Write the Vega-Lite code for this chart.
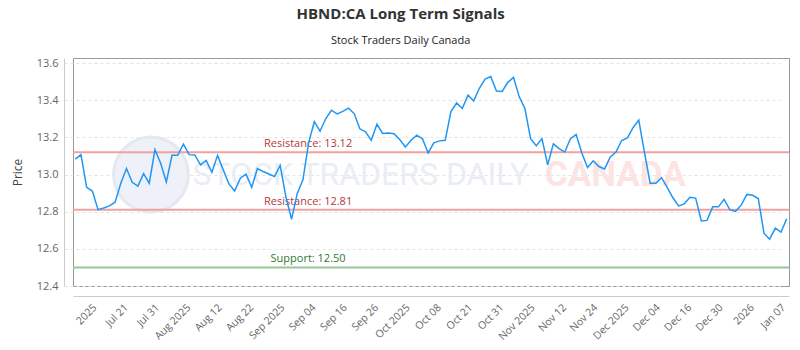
{
  "$schema": "https://vega.github.io/schema/vega-lite/v6.json",
  "width": 800,
  "height": 350,
  "autosize": {"type": "fit", "contains": "padding"},
  "padding": {"left": 11, "right": 10, "top": 8, "bottom": 7},
  "background": "white",
  "title": {
    "text": "HBND:CA Long Term Signals",
    "subtitle": "Stock Traders Daily Canada",
    "anchor": "middle",
    "frame": "bounds",
    "font": "Open Sans",
    "fontSize": 15,
    "fontWeight": "bold",
    "color": "#333333",
    "subtitleFont": "Open Sans",
    "subtitleFontSize": 11,
    "subtitleColor": "#222222",
    "subtitlePadding": 13,
    "offset": 11
  },
  "config": {
    "view": {"stroke": "#999999", "strokeWidth": 1},
    "font": "Open Sans",
    "axisX": {"labelOverlap": false, "labelBound": false, "labelFlush": false, "labelAngle": -45, "labelFontSize": 10.5, "labelColor": "#666666", "labelFont": "Open Sans", "ticks": false, "grid": false, "domainColor": "#cccccc", "offset": 10, "labelPadding": 6},
    "axisY": {"labelOverlap": false, "labelBound": false, "labelFlush": false, "titleFont": "Open Sans", "titleFontSize": 12, "titleFontWeight": "normal", "titleColor": "#444444", "titlePadding": 12, "labelFontSize": 11, "labelColor": "#666666", "labelFont": "Open Sans", "ticks": false, "grid": true, "gridColor": "#e3e3e3", "gridDash": [3, 3], "domainColor": "#cccccc", "offset": 9, "labelPadding": 6}
  },
  "datasets": {
    "prices": [
      {"i": 0, "p": 13.083}, {"i": 1, "p": 13.107}, {"i": 2, "p": 12.931}, {"i": 3, "p": 12.911},
      {"i": 4, "p": 12.811}, {"i": 5, "p": 12.82}, {"i": 6, "p": 12.831}, {"i": 7, "p": 12.851},
      {"i": 8, "p": 12.953}, {"i": 9, "p": 13.032}, {"i": 10, "p": 12.958}, {"i": 11, "p": 12.938},
      {"i": 12, "p": 13.005}, {"i": 13, "p": 12.953}, {"i": 14, "p": 13.134}, {"i": 15, "p": 13.061},
      {"i": 16, "p": 12.96}, {"i": 17, "p": 13.103}, {"i": 18, "p": 13.103}, {"i": 19, "p": 13.163},
      {"i": 20, "p": 13.107}, {"i": 21, "p": 13.105}, {"i": 22, "p": 13.052}, {"i": 23, "p": 13.076},
      {"i": 24, "p": 13.012}, {"i": 25, "p": 13.103}, {"i": 26, "p": 13.025}, {"i": 27, "p": 12.949},
      {"i": 28, "p": 12.911}, {"i": 29, "p": 12.98}, {"i": 30, "p": 13.002}, {"i": 31, "p": 12.931},
      {"i": 32, "p": 13.032}, {"i": 33, "p": 13.016}, {"i": 34, "p": 13.003}, {"i": 35, "p": 12.989},
      {"i": 36, "p": 13.049}, {"i": 37, "p": 12.88}, {"i": 38, "p": 12.759}, {"i": 39, "p": 12.898},
      {"i": 40, "p": 12.971}, {"i": 41, "p": 13.17}, {"i": 42, "p": 13.284}, {"i": 43, "p": 13.233},
      {"i": 44, "p": 13.3}, {"i": 45, "p": 13.346}, {"i": 46, "p": 13.326}, {"i": 47, "p": 13.34},
      {"i": 48, "p": 13.357}, {"i": 49, "p": 13.328}, {"i": 50, "p": 13.246}, {"i": 51, "p": 13.23},
      {"i": 52, "p": 13.184}, {"i": 53, "p": 13.27}, {"i": 54, "p": 13.221}, {"i": 55, "p": 13.224},
      {"i": 56, "p": 13.219}, {"i": 57, "p": 13.188}, {"i": 58, "p": 13.148}, {"i": 59, "p": 13.184},
      {"i": 60, "p": 13.212}, {"i": 61, "p": 13.192}, {"i": 62, "p": 13.116}, {"i": 63, "p": 13.17},
      {"i": 64, "p": 13.181}, {"i": 65, "p": 13.184}, {"i": 66, "p": 13.339}, {"i": 67, "p": 13.385},
      {"i": 68, "p": 13.355}, {"i": 69, "p": 13.427}, {"i": 70, "p": 13.396}, {"i": 71, "p": 13.464},
      {"i": 72, "p": 13.514}, {"i": 73, "p": 13.527}, {"i": 74, "p": 13.449}, {"i": 75, "p": 13.447},
      {"i": 76, "p": 13.496}, {"i": 77, "p": 13.523}, {"i": 78, "p": 13.418}, {"i": 79, "p": 13.355},
      {"i": 80, "p": 13.193}, {"i": 81, "p": 13.155}, {"i": 82, "p": 13.193}, {"i": 83, "p": 13.052},
      {"i": 84, "p": 13.165}, {"i": 85, "p": 13.139}, {"i": 86, "p": 13.121}, {"i": 87, "p": 13.193},
      {"i": 88, "p": 13.215}, {"i": 89, "p": 13.116}, {"i": 90, "p": 13.038}, {"i": 91, "p": 13.074},
      {"i": 92, "p": 13.043}, {"i": 93, "p": 13.03}, {"i": 94, "p": 13.094}, {"i": 95, "p": 13.121},
      {"i": 96, "p": 13.183}, {"i": 97, "p": 13.197}, {"i": 98, "p": 13.252}, {"i": 99, "p": 13.293},
      {"i": 100, "p": 13.12}, {"i": 101, "p": 12.953}, {"i": 102, "p": 12.953}, {"i": 103, "p": 12.983},
      {"i": 104, "p": 12.931}, {"i": 105, "p": 12.875}, {"i": 106, "p": 12.831}, {"i": 107, "p": 12.842},
      {"i": 108, "p": 12.877}, {"i": 109, "p": 12.873}, {"i": 110, "p": 12.75}, {"i": 111, "p": 12.753},
      {"i": 112, "p": 12.826}, {"i": 113, "p": 12.826}, {"i": 114, "p": 12.866}, {"i": 115, "p": 12.811},
      {"i": 116, "p": 12.802}, {"i": 117, "p": 12.835}, {"i": 118, "p": 12.893}, {"i": 119, "p": 12.888},
      {"i": 120, "p": 12.871}, {"i": 121, "p": 12.684}, {"i": 122, "p": 12.652}, {"i": 123, "p": 12.711},
      {"i": 124, "p": 12.69}, {"i": 125, "p": 12.762}
    ],
    "levels": [
      {"label": "Resistance: 13.12", "value": 13.12, "type": "Resistance"},
      {"label": "Resistance: 12.81", "value": 12.81, "type": "Resistance"},
      {"label": "Support: 12.50", "value": 12.5, "type": "Support"}
    ],
    "one": [{"k": 1}]
  },
  "layer": [
    {
      "data": {"name": "one"},
      "mark": {"type": "point", "filled": true, "fill": "#eef1f7", "stroke": "#e3e8f1", "strokeWidth": 3, "opacity": 1, "size": 5600},
      "encoding": {
        "x": {
          "datum": 13.3,
          "type": "quantitative",
          "title": null,
          "scale": {"domain": [-0.4, 125.4], "nice": false, "zero": false},
          "axis": {
            "values": [2.8, 8.3, 13.8, 19.3, 24.8, 30.3, 35.8, 41.3, 46.8, 52.3, 57.8, 63.3, 68.8, 74.3, 79.8, 85.3, 90.8, 96.3, 101.8, 107.3, 112.8, 118.3, 123.8],
            "tickCount": 100,
            "labelExpr": "['2025','Jul 21','Jul 31','Aug 2025','Aug 12','Aug 22','Sep 2025','Sep 04','Sep 16','Sep 26','Oct 2025','Oct 08','Oct 21','Oct 31','Nov 2025','Nov 12','Nov 24','Dec 2025','Dec 04','Dec 16','Dec 30','2026','Jan 07'][round((datum.value - 2.8) / 5.5)]",
            "labelOverlap": false
          }
        },
        "y": {
          "datum": 13.0,
          "type": "quantitative",
          "title": "Price",
          "scale": {"domain": [12.4, 13.627], "nice": false, "zero": false},
          "axis": {
            "values": [12.4, 12.6, 12.8, 13.0, 13.2, 13.4, 13.6],
            "tickCount": 20,
            "format": ".1f",
            "labelOverlap": false
          }
        }
      }
    },
    {
      "data": {"name": "one"},
      "mark": {"type": "text", "text": "STOCK TRADERS DAILY", "align": "left", "baseline": "middle", "font": "Roboto", "fontSize": 32, "fill": "#e9edf4"},
      "encoding": {
        "x": {"datum": 20.6, "type": "quantitative", "title": null},
        "y": {"datum": 12.995, "type": "quantitative", "title": "Price"}
      }
    },
    {
      "data": {"name": "one"},
      "mark": {"type": "text", "text": "CANADA", "align": "left", "baseline": "middle", "font": "Roboto", "fontSize": 35, "fontWeight": "bold", "fill": "#fde4e4"},
      "encoding": {
        "x": {"datum": 82.5, "type": "quantitative", "title": null},
        "y": {"datum": 12.995, "type": "quantitative", "title": "Price"}
      }
    },
    {
      "data": {"name": "levels"},
      "mark": {"type": "rule", "strokeWidth": 2},
      "encoding": {
        "y": {"field": "value", "type": "quantitative", "title": "Price"},
        "color": {"condition": {"test": "datum.type === 'Support'", "value": "#96c796"}, "value": "#f2a0a0"}
      }
    },
    {
      "data": {"name": "levels"},
      "mark": {"type": "text", "align": "center", "baseline": "bottom", "dy": -3, "fontSize": 11, "font": "Open Sans"},
      "encoding": {
        "x": {"datum": 40.9, "type": "quantitative", "title": null},
        "y": {"field": "value", "type": "quantitative", "title": "Price"},
        "text": {"field": "label"},
        "color": {"condition": {"test": "datum.type === 'Support'", "value": "#2f7a2f"}, "value": "#b23a3a"}
      }
    },
    {
      "data": {"name": "prices"},
      "mark": {"type": "line", "stroke": "#2196f3", "strokeWidth": 1.5, "interpolate": "linear"},
      "encoding": {
        "x": {"field": "i", "type": "quantitative", "title": null},
        "y": {"field": "p", "type": "quantitative", "title": "Price"}
      }
    }
  ]
}
